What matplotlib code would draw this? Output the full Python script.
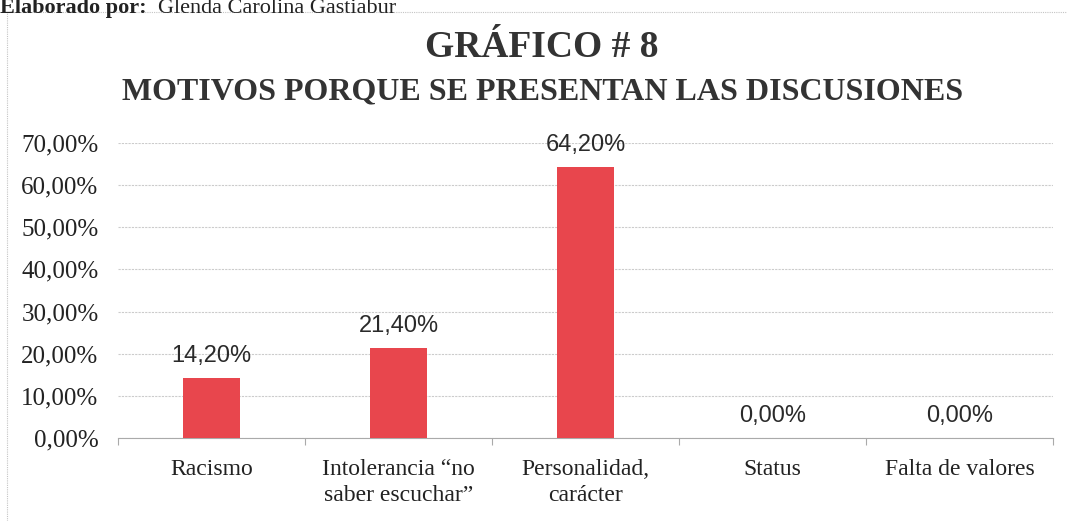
import matplotlib.pyplot as plt
from matplotlib.patches import Rectangle
from matplotlib.ticker import FuncFormatter, FixedLocator
import numpy as np

categorias = ['Racismo', 'Intolerancia \u201cno\nsaber escuchar\u201d', 'Personalidad,\ncar\u00e1cter',
              'Status', 'Falta de valores']
valores = [0.142, 0.214, 0.642, 0.0, 0.0]
etiquetas = ['14,20%', '21,40%', '64,20%', '0,00%', '0,00%']

serif = 'Liberation Serif'
sans = 'Liberation Sans'
gris = '#333333'

fig = plt.figure(figsize=(10.67, 5.21), dpi=100)

# marco del grafico
fig.patches.append(Rectangle((7 / 1067, -0.01), 1.02, 1 - 12 / 521 + 0.01,
                             transform=fig.transFigure, fill=False,
                             edgecolor='#c4c4c4', linewidth=0.8, linestyle=(0, (1, 1))))

# texto superior (cortado en el original)
fig.text(0, 1 - 13 / 521, 'Elaborado por:', fontsize=16, fontweight='bold',
         family=serif, va='baseline', ha='left', color='#222222')
fig.text(158 / 1067, 1 - 13 / 521, 'Glenda Carolina Gastiabur', fontsize=16,
         family=serif, va='baseline', ha='left', color='#222222')

fig.text(542 / 1067, 1 - 47 / 521, 'GR\u00c1FICO # 8', fontsize=27, fontweight='bold',
         family=serif, ha='center', va='center', color=gris)
fig.text(543 / 1067, 1 - 92 / 521, 'MOTIVOS PORQUE SE PRESENTAN LAS DISCUSIONES', fontsize=23,
         fontweight='bold', family=serif, ha='center', va='center', color=gris)

ax = fig.add_axes([118 / 1067, 1 - 438 / 521, (1053 - 118) / 1067, (438 - 143) / 521])
x = np.arange(len(categorias))
ax.bar(x, valores, width=0.31, color='#e8464d', zorder=3)

for xi, v, t in zip(x, valores, etiquetas):
    ax.annotate(t, (xi, v), xytext=(0, 16), textcoords='offset points',
                ha='center', va='center', fontsize=17, family=sans, color='#2a2a2a')

ax.set_xlim(-0.5, len(categorias) - 0.5)
ax.set_ylim(0, 0.7)
ax.set_yticks(np.arange(0, 0.71, 0.1))
ax.yaxis.set_major_formatter(FuncFormatter(lambda v, p: '{:.2f}%'.format(v * 100).replace('.', ',')))
ax.grid(axis='y', color='#cccccc', linewidth=0.8, linestyle=(0, (2, 1)), zorder=0)

# etiquetas de categoria centradas linea por linea
ax.set_xticks(x)
ax.set_xticklabels([])
for xi, c in zip(x, categorias):
    ax.text(xi, -0.072, c, transform=ax.get_xaxis_transform(), ha='center', va='top',
            multialignment='center', family=serif, fontsize=17, color='#222222', linespacing=1.3)
ax.xaxis.set_minor_locator(FixedLocator(np.arange(-0.5, len(categorias), 1)))
ax.tick_params(axis='x', which='major', length=0)
ax.tick_params(axis='x', which='minor', length=5, color='#aaaaaa', width=0.8)
ax.tick_params(axis='y', length=0, pad=14, labelsize=18)
for lab in ax.get_yticklabels():
    lab.set_family(serif)
    lab.set_color('#222222')

for s in ['top', 'right', 'left']:
    ax.spines[s].set_visible(False)
ax.spines['bottom'].set_color('#aaaaaa')
ax.spines['bottom'].set_linewidth(0.8)

fig.savefig('out.png', dpi=100)
